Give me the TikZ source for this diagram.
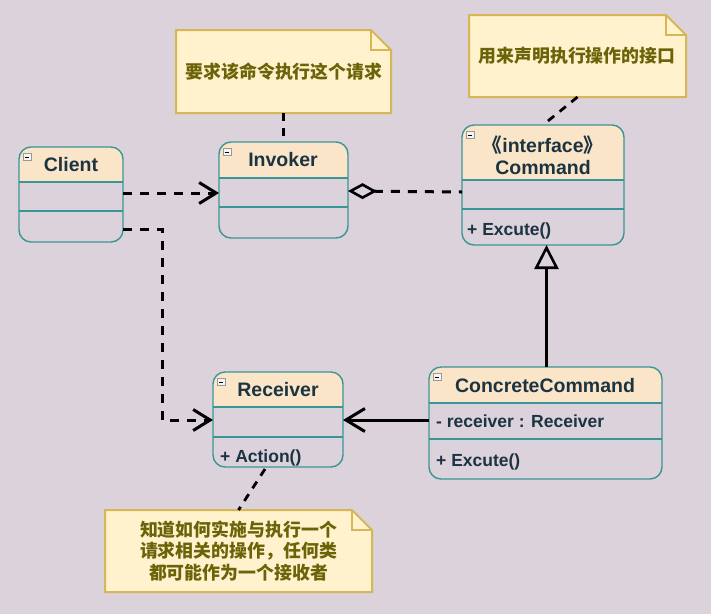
\documentclass[tikz,border=0pt]{standalone}
\usepackage{fontspec}
\setmainfont{Liberation Sans}
\newfontfamily\cjk{Noto Sans CJK SC}
\usetikzlibrary{arrows.meta,calc}
\definecolor{bgc}{RGB}{219,210,219}
\definecolor{hdrc}{RGB}{251,229,200}
\definecolor{clsc}{RGB}{58,150,150}
\definecolor{txtc}{RGB}{28,52,66}
\definecolor{notefill}{RGB}{255,242,204}
\definecolor{notedraw}{RGB}{214,182,86}
\definecolor{notetxt}{RGB}{108,98,8}
\newcommand{\umlclass}[7]{%
  \node[inner sep=0pt, outer sep=0pt, minimum width={(#4-#2)*1pt}, minimum height={(#5-#3)*1pt}, anchor=north west] (#1) at (#2,#3) {};
  \begin{scope}
    \clip[rounded corners=12pt] (#1.north west) rectangle (#1.south east);
    \fill[hdrc] (#1.north west) rectangle (#4,#6);
  \end{scope}
  \draw[clsline] (#2,#6) -- (#4,#6) (#2,#7) -- (#4,#7);
  \draw[clsline, rounded corners=12pt] (#1.north west) rectangle (#1.south east);
  \node[minusicon] at ($(#1.north west)+(8,10)$) {};
}
\newcommand{\umlnote}[5]{%
  \node[inner sep=0pt, outer sep=0pt, minimum width={(#4-#2)*1pt}, minimum height={(#5-#3)*1pt}, anchor=north west] (#1) at (#2,#3) {};
  \draw[notebox] (#1.north west) -- ($(#1.north east)+(-20,0)$) -- ($(#1.north east)+(0,20)$) -- (#1.south east) -- (#1.south west) -- cycle;
  \draw[notebox, fill=none] ($(#1.north east)+(-20,0)$) -- ++(0,20) -- ++(20,0);
}
\begin{document}
\begin{tikzpicture}[x=1pt,y=-1pt,
  clsline/.style={draw=clsc, line width=1.4pt},
  minusicon/.style={draw=gray!80, fill=gray!8, line width=0.6pt, minimum width=8pt, minimum height=7pt, inner sep=0pt,
    path picture={\draw[black, line width=1pt] ([xshift=-2.2pt]path picture bounding box.center) -- ([xshift=2.2pt]path picture bounding box.center);}},
  notebox/.style={draw=notedraw, fill=notefill, line width=2pt, line join=miter},
  hdr/.style={font=\bfseries\fontsize{19.5}{22}\selectfont, text=txtc, inner sep=0pt},
  body/.style={font=\bfseries\fontsize{17.5}{20}\selectfont, text=txtc, inner sep=0pt, anchor=west},
  ntext/.style={font=\cjk\bfseries\fontsize{17.9}{21.5}\selectfont, text=notetxt, inner sep=0pt, align=center},
  dep/.style={line width=3pt, dash pattern=on 9pt off 8pt},
  openarrow/.style={-{Straight Barb[length=17pt,width=21pt,line width=3pt]}},
  bigarrow/.style={-{Straight Barb[length=19pt,width=23pt,line width=3pt]}},
  notelink/.style={line width=2.8pt, dash pattern=on 8pt off 7pt}
]
\fill[bgc] (0,0) rectangle (711,614);

% classes
\umlclass{client}{19}{147}{123}{242}{182}{211}
\umlclass{invoker}{219}{142}{348}{238}{178}{207}
\umlclass{command}{462}{125}{624}{245}{180}{209}
\umlclass{receiver}{213}{372}{343}{467}{407}{437}
\umlclass{concrete}{429}{367}{662}{479}{403}{439}

\node[hdr] (tclient) at (71,165) {Client};
\node[hdr] (tinvoker) at (283,160) {Invoker};
\node[hdr] (tstereo) at (543,145) {{\cjk\bfseries 《}interface{\cjk\bfseries 》}};
\node[hdr] (tcommand) at (543,168) {Command};
\node[body] (texcute1) at (467,231) {+ Excute()};
\node[hdr] (treceiver) at (278,390) {Receiver};
\node[body] (taction) at (220,458) {+ Action()};
\node[hdr] (tconcrete) at (545,386) {ConcreteCommand};
\node[body] (tattr) at (436,421) {- receiver : Receiver};
\node[body] (texcute2) at (436,462) {+ Excute()};

% notes
\umlnote{note1}{176}{30}{391}{113}
\umlnote{note2}{469}{15}{686}{97}
\umlnote{note3}{105}{510}{372}{592}
\node[ntext] (nt1) at (284,72) {要求该命令执行这个请求};
\node[ntext] (nt2) at (577,56) {用来声明执行操作的接口};
\node[ntext] (nt3) at (238.5,551) {知道如何实施与执行一个\\请求相关的操作，任何类\\都可能作为一个接收者};

% note links
\draw[notelink] (note1.south) -- (invoker.north);
\draw[notelink] (note2.south) -- (command.north);
\draw[notelink] ($(receiver.south)+(-13,2)$) -- (note3.north);

% connectors
\draw[dep, openarrow] ($(client.north east)+(0,46)$) -- ($(invoker.north west)+(0,51)$);
\draw[dep, {Diamond[open,length=29pt,width=16pt,line width=2.6pt]}-] ($(invoker.north east)+(0,49)$) -- ($(command.north west)+(0,67)$);
\draw[dep, openarrow] ($(client.north east)+(0,82)$) -- ++(39,0) |- ($(receiver.north west)+(0,48)$);
\draw[line width=3pt, bigarrow] ($(concrete.north west)+(0,53)$) -- ($(receiver.north east)+(0,48)$);
\draw[line width=3pt, -{Triangle[open,length=24pt,width=24pt,line width=2.6pt]}] ($(concrete.north)+(1,0)$) -- ($(concrete.north |- command.south)+(1,0)$);
\end{tikzpicture}
\end{document}
